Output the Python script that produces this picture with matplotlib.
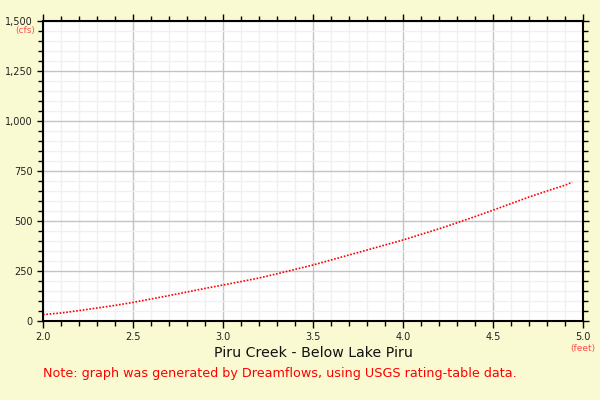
import matplotlib.pyplot as plt
from matplotlib.ticker import MultipleLocator, FuncFormatter

# stage (feet) vs flow (cfs)
stage = [2.0, 2.1, 2.2, 2.3, 2.4, 2.5, 2.6, 2.7, 2.8, 2.9, 3.0, 3.1, 3.2, 3.3, 3.4, 3.5,
         3.6, 3.7, 3.8, 3.9, 4.0, 4.1, 4.2, 4.3, 4.4, 4.5, 4.6, 4.7, 4.8, 4.9, 4.94]
flow = [32, 40, 52, 65, 78, 93, 110, 127, 145, 163, 180, 197, 215, 236, 258, 280,
        305, 330, 355, 380, 405, 433, 461, 491, 522, 554, 587, 620, 650, 679, 694]

title = "Piru Creek - Below Lake Piru"
note = "Note: graph was generated by Dreamflows, using USGS rating-table data."

bg = "#fafad2"
fig = plt.figure(figsize=(6, 4), dpi=100, facecolor=bg)
ax = fig.add_axes([43 / 600, 1 - 321 / 400, 540 / 600, 300 / 400])
ax.set_facecolor("white")

ax.plot(stage, flow, color="red", linestyle=(0, (1, 1)), linewidth=1.2)

ax.set_xlim(2.0, 5.0)
ax.set_ylim(0, 1500)
ax.xaxis.set_major_locator(MultipleLocator(0.5))
ax.xaxis.set_minor_locator(MultipleLocator(0.1))
ax.yaxis.set_major_locator(MultipleLocator(250))
ax.yaxis.set_minor_locator(MultipleLocator(50))
ax.yaxis.set_major_formatter(FuncFormatter(lambda v, p: f"{int(v):,}"))
ax.xaxis.set_major_formatter(FuncFormatter(lambda v, p: f"{v:.1f}"))

ax.grid(which="major", color="#c4c4c4", linewidth=1)
ax.grid(which="minor", color="#f0f0f0", linewidth=1)
ax.set_axisbelow(True)

for s in ax.spines.values():
    s.set_color("black")
    s.set_linewidth(1.5)

ax.tick_params(which="both", direction="out", top=True, right=True,
               labelsize=7, labelcolor="#222222", width=1)
ax.tick_params(axis="y", which="both", length=4, pad=3.5)
ax.tick_params(axis="y", which="minor", right=True, length=3.5)
ax.tick_params(axis="x", which="major", length=5, pad=3)
ax.tick_params(axis="x", which="minor", length=3.5)

fig.text(35 / 600, 1 - 31 / 400, "(cfs)", color="#ff5050", fontsize=6.5,
         ha="right", va="center")
fig.text(595 / 600, 1 - 348 / 400, "(feet)", color="#ff5050", fontsize=6.5,
         ha="right", va="center")
fig.text(313 / 600, 1 - 353 / 400, title, fontsize=10.2, ha="center", va="center",
         color="#111111")
fig.text(43 / 600, 1 - 374 / 400, note, fontsize=9.2, ha="left", va="center",
         color="red")

fig.savefig("out.png", dpi=100, facecolor=bg)
